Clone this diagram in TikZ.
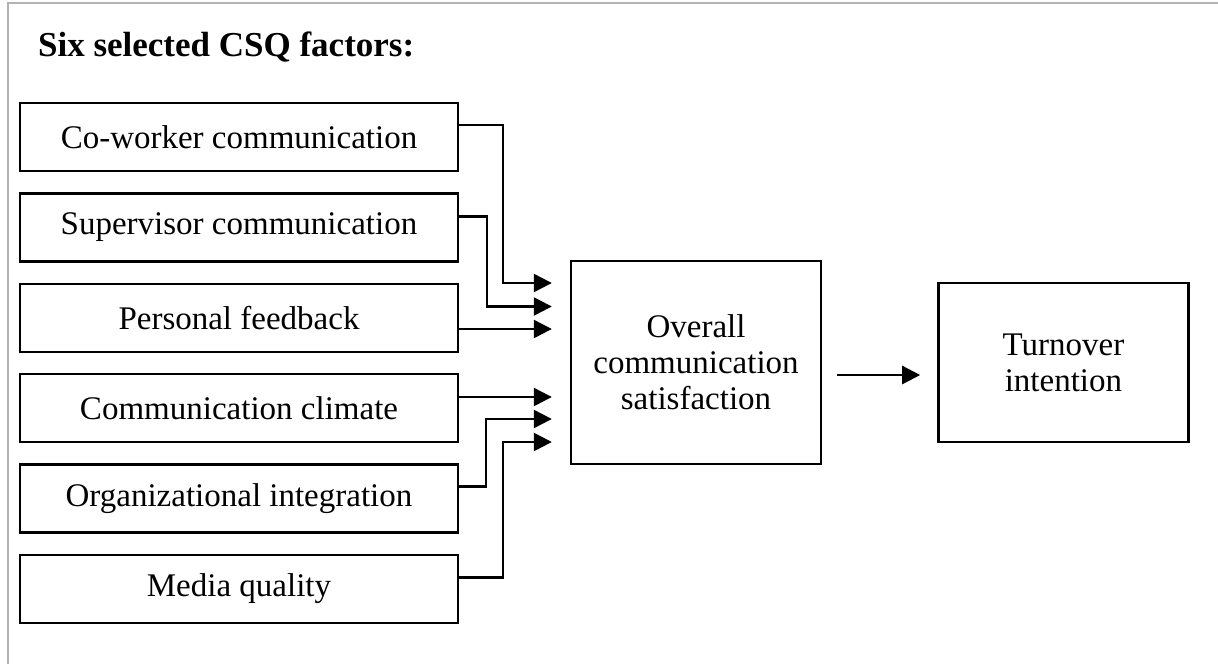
\documentclass[tikz,border=0pt]{standalone}
\usepackage{fontspec}
\setmainfont{Liberation Serif}
\usetikzlibrary{arrows.meta, positioning}

\begin{document}
\begin{tikzpicture}[x=0.5pt,y=-0.5pt, f/.style={rectangle,draw=black,line width=1.2pt,minimum width=219pt,minimum height=34pt,inner sep=0pt,align=center,font=\fontsize{16.5}{18}\selectfont}, o/.style={rectangle,draw=black,line width=1.2pt,minimum width=125pt,inner sep=0pt,align=center,font=\fontsize{16.5}{18}\selectfont}, arr/.style={-{Triangle[length=9pt,width=9pt]},line width=1.2pt}, node distance=10pt]
  \useasboundingbox (0,0) rectangle (1218,664);
  \draw[black!30,line width=0.6pt](8,664)--(8,3)--(1218,3);
  \node[anchor=west,font=\fontsize{17.5}{20}\selectfont\bfseries](ttl) at (31,47){Six selected CSQ factors:};
  \node[f](f1) at (239,137){Co-worker communication};
  \node[f,below=of f1](f2){Supervisor communication};
  \node[f,below=of f2](f3){Personal feedback};
  \node[f,below=of f3](f4){Communication climate};
  \node[f,below=of f4](f5){Organizational integration};
  \node[f,below=of f5](f6){Media quality};
  \node[o,minimum height=101.5pt](ovr) at (696,362.5){Overall\\communication\\satisfaction};
  \node[o,minimum height=79.5pt,right=57.5pt of ovr](turn){Turnover\\intention};
  % arrow tips in front of the overall box
  \foreach \i/\d in {1/-39.75,2/-28,3/-16.75,4/17.25,5/28.25,6/39.75}
    \coordinate (in\i) at ([xshift=-9pt,yshift=-\d pt]ovr.west);
  \draw[arr]([yshift=6pt]f1.east) -| ([xshift=-24.5pt]in1) -- (in1);
  \draw[arr]([yshift=5.5pt]f2.east) -| ([xshift=-32.5pt]in2) -- (in2);
  \draw[arr](f3.east |- in3) -- (in3);
  \draw[arr](f4.east |- in4) -- (in4);
  \draw[arr]([yshift=6pt]f5.east) -| ([xshift=-33pt]in5) -- (in5);
  \draw[arr]([yshift=5.75pt]f6.east) -| ([xshift=-24.5pt]in6) -- (in6);
  \draw[arr]([xshift=7.5pt,yshift=-6.25pt]ovr.east) -- ([xshift=-8.5pt,yshift=-6.25pt]turn.west);
\end{tikzpicture}
\end{document}
